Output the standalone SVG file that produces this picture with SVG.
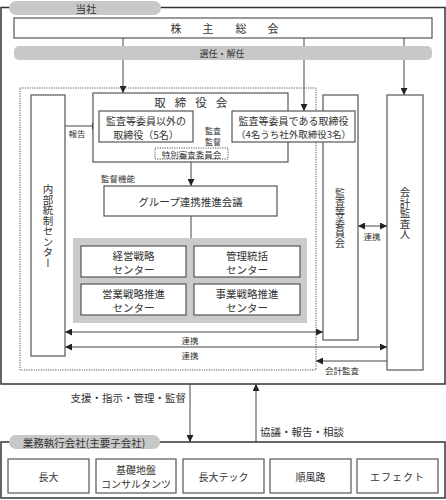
<svg xmlns="http://www.w3.org/2000/svg" width="446" height="500" viewBox="0 0 446 500">
<style>
text{font-family:"Noto Sans CJK JP","Noto Sans CJK SC",sans-serif;fill:#333;}
.box{fill:#fff;stroke:#555;stroke-width:1.2;}
.frame{fill:none;stroke:#333;stroke-width:1.5;}
.pill{fill:#c8c8c8;stroke:none;}
.ln{fill:none;stroke:#444;stroke-width:1;}
.dot{fill:none;stroke:#555;stroke-width:1;stroke-dasharray:1.2,1.2;}
.t10{font-size:10px;}
.t11{font-size:10.5px;}
.s{font-size:8.5px;}
.c{text-anchor:middle;dominant-baseline:central;}
.v{writing-mode:vertical-rl;text-anchor:middle;}
</style>
<defs>
<marker id="ah" viewBox="0 0 10 10" refX="10" refY="5" markerWidth="7" markerHeight="7" markerUnits="userSpaceOnUse" orient="auto-start-reverse">
<path d="M0,0 L10,5 L0,10 z" fill="#222"/>
</marker>
</defs>

<!-- outer frames -->
<g id="frame-top">
<rect class="frame" x="1" y="7.5" width="444" height="376.5"/>
<rect class="pill" x="9" y="1" width="152" height="14" rx="7"/>
<text class="t11 c" x="86" y="8">当社</text>
</g>
<g id="frame-bottom">
<rect class="frame" x="1" y="442" width="444" height="56"/>
<rect class="pill" x="9" y="435" width="151" height="14" rx="7"/>
<text class="t11 c" x="84" y="442">業務執行会社(主要子会社)</text>
</g>

<!-- connectors -->
<g id="connectors">
<line class="ln" x1="123" y1="38" x2="123" y2="93" marker-end="url(#ah)"/>
<line class="ln" x1="304" y1="38" x2="304" y2="111" marker-end="url(#ah)"/>
<line class="ln" x1="404" y1="38" x2="404" y2="95" marker-end="url(#ah)"/>
<line class="ln" x1="65" y1="126" x2="99" y2="126" marker-end="url(#ah)"/>
<line class="ln" x1="232" y1="126" x2="193" y2="126" marker-end="url(#ah)"/>
<line class="ln" x1="191" y1="162" x2="191" y2="186" marker-end="url(#ah)"/>
<line class="ln" x1="191" y1="216" x2="191" y2="238"/>
<line class="ln" x1="65" y1="332" x2="323" y2="332" marker-start="url(#ah)" marker-end="url(#ah)"/>
<line class="ln" x1="65" y1="347" x2="387" y2="347" marker-start="url(#ah)" marker-end="url(#ah)"/>
<line class="ln" x1="387" y1="361" x2="316" y2="361" marker-end="url(#ah)"/>
<line class="ln" x1="358" y1="226" x2="387" y2="226" marker-start="url(#ah)" marker-end="url(#ah)"/>
<line class="ln" x1="190" y1="384" x2="190" y2="442" marker-end="url(#ah)"/>
<line class="ln" x1="256" y1="442" x2="256" y2="384" marker-end="url(#ah)"/>
</g>

<!-- top boxes -->
<g id="shareholders">
<rect class="box" x="14" y="18" width="418" height="20"/>
<text class="c" style="font-size:11px" x="176 208 241 273" y="28">株主総会</text>
</g>
<g id="appoint">
<rect class="pill" x="14" y="46" width="418" height="14" rx="5"/>
<text class="c" style="font-size:9px" x="222" y="53">選任・解任</text>
</g>

<!-- dotted region -->
<rect class="dot" x="20" y="88" width="296" height="282"/>

<g id="audit-committee">
<rect class="box" x="323" y="95" width="35" height="245"/>
<text class="t10 v" x="340" y="218">監査等委員会</text>
</g>

<g id="auditor">
<rect class="box" x="387" y="95" width="36" height="275"/>
<text class="t11 v" x="405" y="213.5">会計監査人</text>
</g>

<g id="internal-control">
<rect class="box" x="31" y="95" width="34" height="261"/>
<text class="t11 v" x="48" y="226">内部統制センター</text>
</g>

<g id="board">
<rect class="box" x="93" y="93" width="195" height="69"/>
<text class="c" style="font-size:11.5px" x="160 180.5 201 221.5" y="102">取締役会</text>
</g>

<g id="directors-other">
<rect class="box" x="99" y="111" width="94" height="31"/>
<text class="t10 c" x="146" y="120">監査等委員以外の</text>
<text class="t10 c" x="146" y="134">取締役（5名）</text>
</g>

<g id="directors-audit">
<rect class="box" x="232" y="111" width="123" height="31"/>
<text class="t10 c" x="293.5" y="120">監査等委員である取締役</text>
<text class="c" x="293.5" y="134" style="font-size:9.5px">（4名うち社外取締役3名）</text>
</g>

<g id="special-committee">
<rect class="dot" x="155" y="148" width="73" height="11" style="fill:#fff"/>
<text class="s c" x="191.5" y="153.5">特別審査委員会</text>
</g>

<g id="group-council">
<rect class="box" x="104" y="186" width="173" height="30"/>
<text class="t11 c" x="190.5" y="201">グループ連携推進会議</text>
</g>

<g id="centers">
<rect x="73" y="238" width="234" height="85" fill="#cbcbcb"/>
</g>
<g id="center-management">
<rect class="box" x="81" y="246" width="105" height="31"/>
<text class="t11 c" x="133.5" y="255">経営戦略</text>
<text class="t11 c" x="133.5" y="269">センター</text>
</g>
<g id="center-admin">
<rect class="box" x="194" y="246" width="106" height="31"/>
<text class="t11 c" x="247" y="255">管理統括</text>
<text class="t11 c" x="247" y="269">センター</text>
</g>
<g id="center-sales">
<rect class="box" x="81" y="284" width="105" height="31"/>
<text class="t11 c" x="133.5" y="293">営業戦略推進</text>
<text class="t11 c" x="133.5" y="307">センター</text>
</g>
<g id="center-business">
<rect class="box" x="194" y="284" width="106" height="31"/>
<text class="t11 c" x="247" y="293">事業戦略推進</text>
<text class="t11 c" x="247" y="307">センター</text>
</g>

<!-- labels -->
<g id="labels">
<text class="s c" x="77" y="133">報告</text>
<text class="c" style="font-size:8px" x="213" y="130.5">監査</text>
<text class="c" style="font-size:8px" x="213" y="141.5">監督</text>
<text class="s c" x="118" y="178">監督機能</text>
<text class="s c" x="190" y="340">連携</text>
<text class="s c" x="190" y="355">連携</text>
<text class="s c" x="372" y="236">連携</text>
<text class="s c" x="342" y="370">会計監査</text>
<text class="t11" x="186" y="397" style="text-anchor:end;dominant-baseline:central">支援・指示・管理・監督</text>
<text class="t11" x="260" y="431" style="dominant-baseline:central">協議・報告・相談</text>
</g>

<!-- companies -->
<g id="co-chodai">
<rect class="box" x="8" y="459" width="81" height="34"/>
<text class="t10 c" x="48.5" y="476">長大</text>
</g>
<g id="co-kiso">
<rect class="box" x="96" y="459" width="80" height="34"/>
<text class="t10 c" x="136" y="469">基礎地盤</text>
<text class="t10 c" x="136" y="483">コンサルタンツ</text>
</g>
<g id="co-tec">
<rect class="box" x="183" y="459" width="81" height="34"/>
<text class="t10 c" x="223.5" y="476">長大テック</text>
</g>
<g id="co-junpuji">
<rect class="box" x="270" y="459" width="81" height="34"/>
<text class="t10 c" x="310.5" y="476">順風路</text>
</g>
<g id="co-effect">
<rect class="box" x="357" y="459" width="81" height="34"/>
<text class="t10 c" x="397.5" y="476" style="letter-spacing:1px">エフェクト</text>
</g>
</svg>
